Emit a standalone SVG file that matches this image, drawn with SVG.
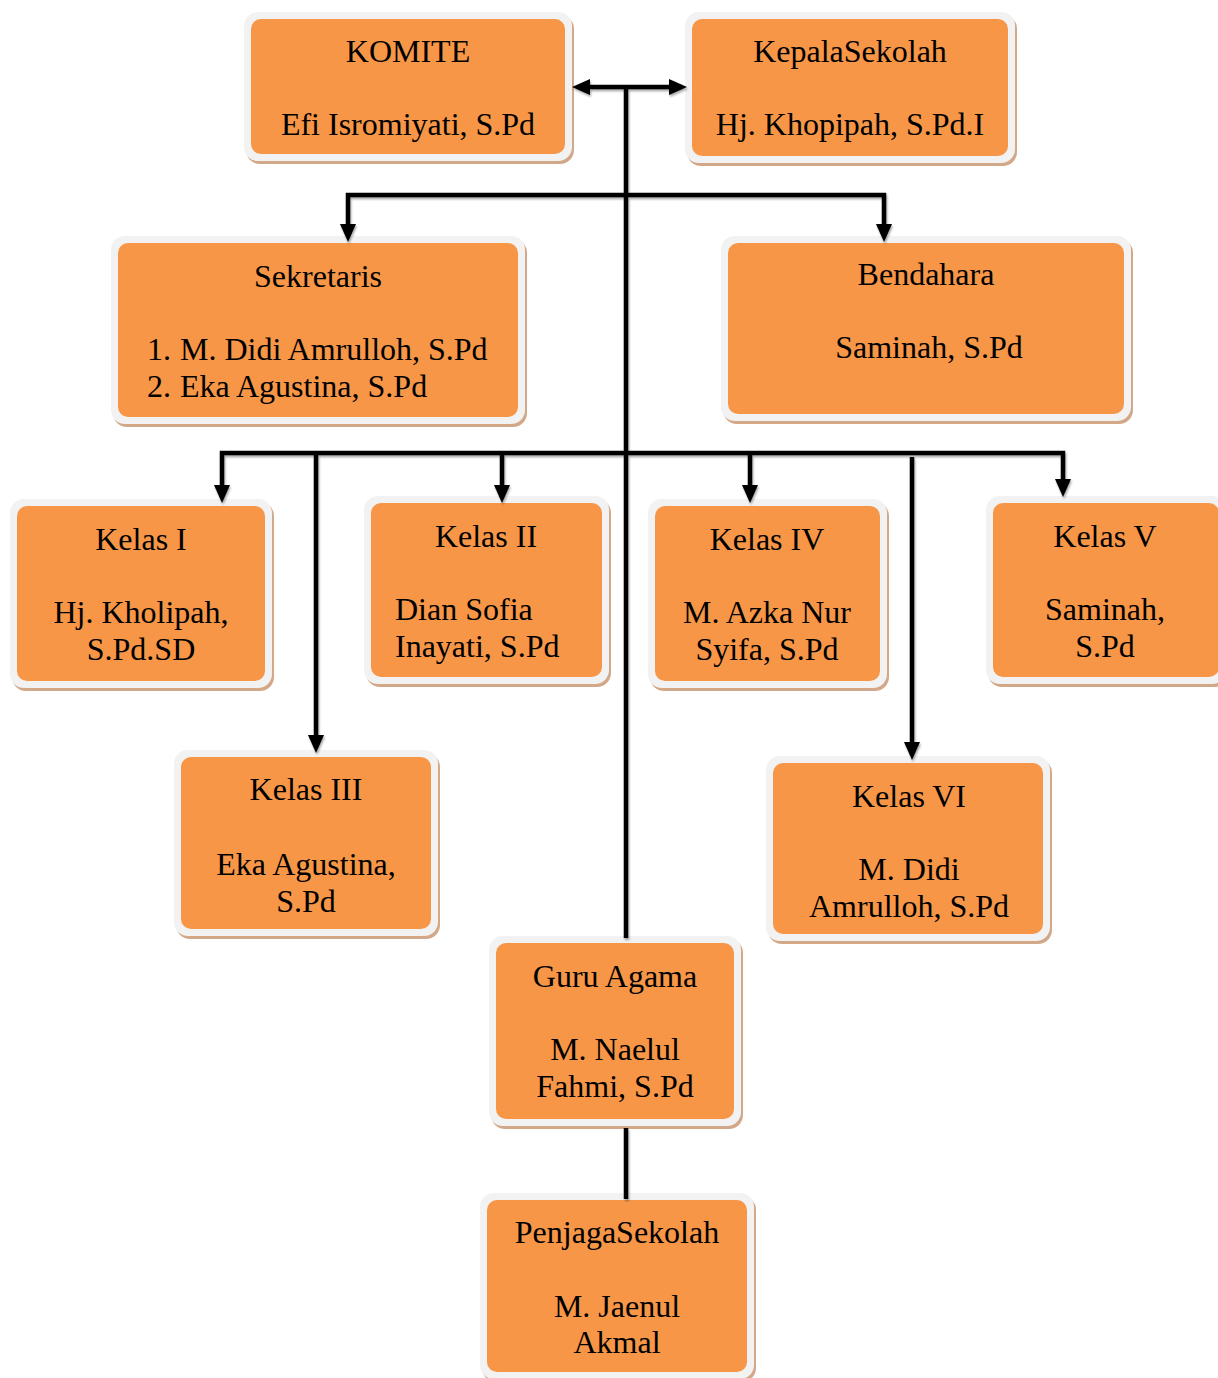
<svg xmlns="http://www.w3.org/2000/svg" width="1218" height="1378" viewBox="0 0 1218 1378">
<style>
.sh{fill:#d2a888}
.bd{fill:#f2f2f2}
.in{fill:#f79646}
text{font-family:"Liberation Serif","Times New Roman",serif;font-size:32px;fill:#000}
.c{text-anchor:middle}
.ln{fill:none;stroke:#000;stroke-width:4.5;stroke-linejoin:miter}
</style>
<defs>
<marker id="ah" viewBox="0 0 18 16" refX="8" refY="8" markerWidth="18" markerHeight="16" markerUnits="userSpaceOnUse" orient="auto-start-reverse">
<path d="M0,0 L18,8 L0,16 z" fill="#000"/>
</marker>
<filter id="ds" x="-5%" y="-5%" width="110%" height="110%">
<feDropShadow dx="1" dy="2" stdDeviation="1" flood-color="#000" flood-opacity="0.35"/>
</filter>
</defs>
<rect width="1218" height="1378" fill="#fff"/>

<g id="komite">
<rect class="sh" x="246" y="15" width="328" height="149" rx="14"/>
<rect class="bd" x="244" y="12" width="328" height="149" rx="14"/>
<rect class="in" x="251" y="19" width="314" height="135" rx="10"/>
<text class="c" x="408" y="62">KOMITE</text>
<text class="c" x="408" y="135">Efi Isromiyati, S.Pd</text>
</g>

<g id="kepala">
<rect class="sh" x="687" y="15" width="330" height="151" rx="14"/>
<rect class="bd" x="685" y="12" width="330" height="151" rx="14"/>
<rect class="in" x="692" y="19" width="316" height="137" rx="10"/>
<text class="c" x="850" y="62">KepalaSekolah</text>
<text class="c" x="850" y="135">Hj. Khopipah, S.Pd.I</text>
</g>

<g id="sekretaris">
<rect class="sh" x="113" y="239" width="414" height="188" rx="14"/>
<rect class="bd" x="111" y="236" width="414" height="188" rx="14"/>
<rect class="in" x="118" y="243" width="400" height="174" rx="10"/>
<text class="c" x="318" y="287">Sekretaris</text>
<text x="147" y="360">1.</text><text x="180" y="360">M. Didi Amrulloh, S.Pd</text>
<text x="147" y="397">2.</text><text x="180" y="397">Eka Agustina, S.Pd</text>
</g>

<g id="bendahara">
<rect class="sh" x="723" y="239" width="410" height="185" rx="14"/>
<rect class="bd" x="721" y="236" width="410" height="185" rx="14"/>
<rect class="in" x="728" y="243" width="396" height="171" rx="10"/>
<text class="c" x="926" y="285">Bendahara</text>
<text class="c" x="929" y="358">Saminah, S.Pd</text>
</g>

<g id="kelas1">
<rect class="sh" x="12" y="502" width="262" height="189" rx="14"/>
<rect class="bd" x="10" y="499" width="262" height="189" rx="14"/>
<rect class="in" x="17" y="506" width="248" height="175" rx="10"/>
<text class="c" x="141" y="550">Kelas I</text>
<text class="c" x="141" y="623">Hj. Kholipah,</text>
<text class="c" x="141" y="660">S.Pd.SD</text>
</g>

<g id="kelas2">
<rect class="sh" x="366" y="499" width="245" height="188" rx="14"/>
<rect class="bd" x="364" y="496" width="245" height="188" rx="14"/>
<rect class="in" x="371" y="503" width="231" height="174" rx="10"/>
<text class="c" x="486" y="547">Kelas II</text>
<text x="395" y="620">Dian Sofia</text>
<text x="395" y="657">Inayati, S.Pd</text>
</g>

<g id="kelas4">
<rect class="sh" x="650" y="502" width="239" height="189" rx="14"/>
<rect class="bd" x="648" y="499" width="239" height="189" rx="14"/>
<rect class="in" x="655" y="506" width="225" height="175" rx="10"/>
<text class="c" x="767" y="550">Kelas IV</text>
<text class="c" x="767" y="623">M. Azka Nur</text>
<text class="c" x="767" y="660">Syifa, S.Pd</text>
</g>

<g id="kelas5">
<rect class="sh" x="988" y="499" width="240" height="188" rx="14"/>
<rect class="bd" x="986" y="496" width="240" height="188" rx="14"/>
<rect class="in" x="993" y="503" width="226" height="174" rx="10"/>
<text class="c" x="1105" y="547">Kelas V</text>
<text class="c" x="1105" y="620">Saminah,</text>
<text class="c" x="1105" y="657">S.Pd</text>
</g>

<g id="kelas3">
<rect class="sh" x="176" y="753" width="264" height="186" rx="14"/>
<rect class="bd" x="174" y="750" width="264" height="186" rx="14"/>
<rect class="in" x="181" y="757" width="250" height="172" rx="10"/>
<text class="c" x="306" y="800">Kelas III</text>
<text class="c" x="306" y="875">Eka Agustina,</text>
<text class="c" x="306" y="912">S.Pd</text>
</g>

<g id="kelas6">
<rect class="sh" x="768" y="759" width="284" height="185" rx="14"/>
<rect class="bd" x="766" y="756" width="284" height="185" rx="14"/>
<rect class="in" x="773" y="763" width="270" height="171" rx="10"/>
<text class="c" x="909" y="807">Kelas VI</text>
<text class="c" x="909" y="880">M. Didi</text>
<text class="c" x="909" y="917">Amrulloh, S.Pd</text>
</g>

<g id="guru-agama">
<rect class="sh" x="491" y="939" width="252" height="190" rx="14"/>
<rect class="bd" x="489" y="936" width="252" height="190" rx="14"/>
<rect class="in" x="496" y="943" width="238" height="176" rx="10"/>
<text class="c" x="615" y="987">Guru Agama</text>
<text class="c" x="615" y="1060">M. Naelul</text>
<text class="c" x="615" y="1097">Fahmi, S.Pd</text>
</g>

<g id="penjaga">
<rect class="sh" x="482" y="1196" width="274" height="186" rx="14"/>
<rect class="bd" x="480" y="1193" width="274" height="186" rx="14"/>
<rect class="in" x="487" y="1200" width="260" height="172" rx="10"/>
<text class="c" x="617" y="1243">PenjagaSekolah</text>
<text class="c" x="617" y="1317">M. Jaenul</text>
<text class="c" x="617" y="1353">Akmal</text>
</g>

<g id="connectors" filter="url(#ds)">
<path class="ln" d="M626,87 V938"/>
<path class="ln" d="M582,87 H677" marker-start="url(#ah)" marker-end="url(#ah)"/>
<path class="ln" d="M348,232 V195 H884 V232" marker-start="url(#ah)" marker-end="url(#ah)"/>
<path class="ln" d="M222,493 V453 H1063 V487" marker-start="url(#ah)" marker-end="url(#ah)"/>
<path class="ln" d="M316,453 V743" marker-end="url(#ah)"/>
<path class="ln" d="M502,453 V493" marker-end="url(#ah)"/>
<path class="ln" d="M750,453 V493" marker-end="url(#ah)"/>
<path class="ln" d="M912,457 V750" marker-end="url(#ah)"/>
<path class="ln" d="M626,1128 V1199"/>
</g>
</svg>
